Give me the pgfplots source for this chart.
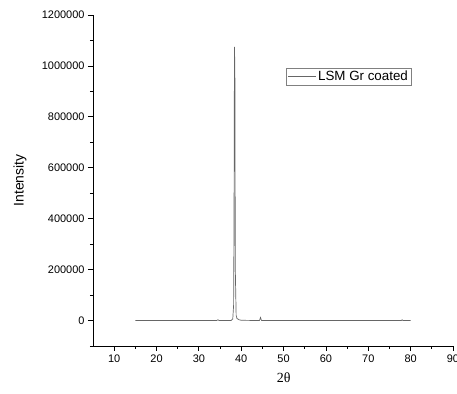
\documentclass[border=0pt]{standalone}
\usepackage{pgfplots}
\pgfplotsset{compat=1.18}
\usepackage{fontspec}
\setmainfont{Liberation Sans}
\newfontfamily\seriffont{Liberation Serif}
\begin{document}
\begin{tikzpicture}
\useasboundingbox (0,0) rectangle (457bp,394bp);
\begin{axis}[
  at={(93bp,48bp)}, anchor=south west,
  scale only axis,
  width=360bp, height=331bp,
  xmin=5, xmax=90, ymin=-100000, ymax=1200000,
  scaled y ticks=false,
  axis lines*=left,
  axis line style={line width=0.9pt, black},
  xtick={10,20,30,40,50,60,70,80,90},
  xticklabels={10,20,30,40,50,60,70,80,90},
  minor xtick={15,25,35,45,55,65,75,85},
  ytick={0,200000,400000,600000,800000,1000000,1200000},
  yticklabels={0,200000,400000,600000,800000,1000000,1200000},
  minor ytick={-100000,100000,300000,500000,700000,900000,1100000},
  tick align=outside, tick pos=left,
  major tick length=5bp, minor tick length=3bp,
  tick style={line width=0.8pt, black},
  tick label style={font=\fontsize{11}{13}\selectfont},
  xlabel={\seriffont 2θ},
  ylabel={Intensity},
  xlabel style={font=\fontsize{14}{16}\selectfont, at={(axis description cs:0.53,-0.095)}, anchor=center},
  ylabel style={font=\fontsize{14}{16}\selectfont, at={(axis description cs:-0.203,0.5)}, anchor=center},
  legend style={at={(axis cs:50.6,992000)}, anchor=north west, draw=gray, line width=0.6pt,
    font=\fontsize{13.4}{15}\selectfont, inner sep=1pt},
  legend image code/.code={\draw[#1] (0bp,0bp) -- (28bp,0bp);},
  legend cell align=left,
]
\addplot[color=gray!80!black, line width=0.7pt] coordinates {
(15,0) (20,0) (25,0) (30,0) (34.2,0) (34.5,3000) (34.8,0) (37.6,0) (38.0,6000)
(38.2,60000) (38.3,400000) (38.4,1075000) (38.5,990000) (38.6,200000) (38.8,20000)
(39.0,8000) (39.5,3000) (40,1000) (44.3,0) (44.55,12000) (44.8,0) (60,0)
(77.8,0) (78.0,3000) (78.2,0) (80,0)
};
\addlegendentry{LSM Gr coated}
\end{axis}
\end{tikzpicture}
\end{document}
